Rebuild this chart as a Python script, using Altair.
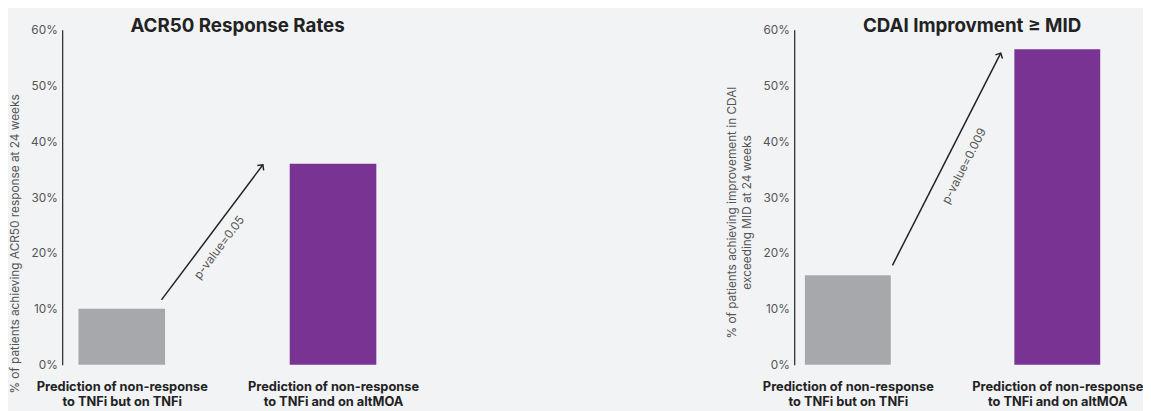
import math
import altair as alt
import pandas as pd

# ---- data ----
categories = ["Prediction of non-response|to TNFi but on TNFi",
              "Prediction of non-response|to TNFi and on altMOA"]
acr50_values = [10, 36]
cdai_values = [16, 56.5]

# arrow annotations: (start x, start y) -> (end x, end y) in category-index / percent units
acr50_arrow = [0.188, 11.6, 0.668, 35.8]
cdai_arrow = [0.213, 17.8, 0.730, 55.8]
acr50_ptext = ["p-value=0.05", 0.461, 21.0]
cdai_ptext = ["p-value=0.009", 0.555, 35.6]

y_ticks = [0, 10, 20, 30, 40, 50, 60]

# ---- style ----
FONT = "Inter"
BG = "#f2f3f5"
COLORS = ["#a7a8ab", "#783393"]
HALF = 0.205
H = 340

label_expr = "datum.value < 0.5 ? [" + ",".join('"%s"' % s for s in categories[0].split("|")) + \
             "] : [" + ",".join('"%s"' % s for s in categories[1].split("|")) + "]"


def panel(values, title, ytitle, xdom, width, arrow, ptext, title_dx, ytitle_x, ytitle_y):
    step = width / (xdom[1] - xdom[0])
    ppu = H / 60.0
    df = pd.DataFrame({
        "cat": [c.replace("|", " ") for c in categories],
        "idx": [0, 1],
        "val": values,
    })
    df["x0"] = df["idx"] - HALF
    df["x1"] = df["idx"] + HALF
    xs = alt.Scale(domain=xdom, nice=False, zero=False)
    ys = alt.Scale(domain=[0, 60], nice=False)
    xaxis = alt.Axis(values=[0, 1], labelExpr=label_expr, ticks=False, domain=False, grid=False,
                     labelFont=FONT, labelFontWeight="bold", labelFontSize=13, labelColor="#222",
                     labelPadding=16, labelLineHeight=15, labelFlush=False, labelOverlap=False,
                     title=None)
    yaxis = alt.Axis(values=y_ticks, labelExpr="datum.value + '%'", ticks=False, grid=False,
                     domainColor="#222", domainWidth=1.2, labelColor="#555", labelFont=FONT,
                     labelFontSize=12, labelPadding=5, title=ytitle, titleFont=FONT,
                     titleFontSize=12, titleFontWeight="normal", titleColor="#555",
                     titleX=ytitle_x, titleY=ytitle_y, titleBaseline="middle",
                     titleAlign="center", titleAngle=270, titleLineHeight=15)
    bars = alt.Chart(df).mark_bar().encode(
        x=alt.X("x0:Q", scale=xs, axis=xaxis),
        x2="x1:Q",
        y=alt.Y("val:Q", scale=ys, axis=yaxis),
        y2=alt.datum(0),
        color=alt.Color("cat:N", scale=alt.Scale(domain=list(df["cat"]), range=COLORS), legend=None),
    )
    adf = pd.DataFrame({"x": [arrow[0]], "y": [arrow[1]], "x2": [arrow[2]], "y2": [arrow[3]]})
    line = alt.Chart(adf).mark_rule(color="#222", strokeWidth=1.5).encode(
        x=alt.X("x:Q", scale=xs), y=alt.Y("y:Q", scale=ys), x2="x2:Q", y2="y2:Q")
    dx = (arrow[2] - arrow[0]) * step
    dy = (arrow[3] - arrow[1]) * ppu
    head_angle = math.degrees(math.atan2(dx, dy))
    text_angle = 360 - math.degrees(math.atan2(dy, dx))
    head = alt.Chart(adf).mark_point(
        shape="M-0.7,0.7L0,0L0.7,0.7", filled=False, stroke="#222", strokeWidth=1.5,
        size=130, angle=head_angle, opacity=1).encode(
        x=alt.X("x2:Q", scale=xs), y=alt.Y("y2:Q", scale=ys))
    tdf = pd.DataFrame({"t": [ptext[0]], "x": [ptext[1]], "y": [ptext[2]]})
    txt = alt.Chart(tdf).mark_text(angle=text_angle, font=FONT, fontSize=12, color="#555",
                                   align="center", baseline="middle").encode(
        x=alt.X("x:Q", scale=xs), y=alt.Y("y:Q", scale=ys), text="t:N")
    return alt.layer(bars, line, head, txt).properties(
        width=width, height=H,
        title=alt.TitleParams(title, font=FONT, fontSize=19, fontWeight="bold", color="#222",
                              anchor="middle", dx=title_dx, offset=-12),
    )


left = panel(acr50_values, "ACR50 Response Rates",
             "% of patients achieving ACR50 response at 24 weeks",
             [-0.282, 1.285], 336, acr50_arrow, acr50_ptext, 10, -48, 217)
right = panel(cdai_values, "CDAI Improvment \u2265 MID",
              ["% of patients achieving improvement in CDAI", "exceeding MID at 24 weeks"],
              [-0.256, 1.254], 321, cdai_arrow, cdai_ptext, 20, -63.5, 185)

chart = alt.hconcat(left, right, spacing=311).configure(
    background=BG, padding={"left": 0, "top": 6, "right": 0, "bottom": 0}
).configure_view(stroke=None)

chart.save("out.html", embed_options={"renderer": "svg", "actions": False})
